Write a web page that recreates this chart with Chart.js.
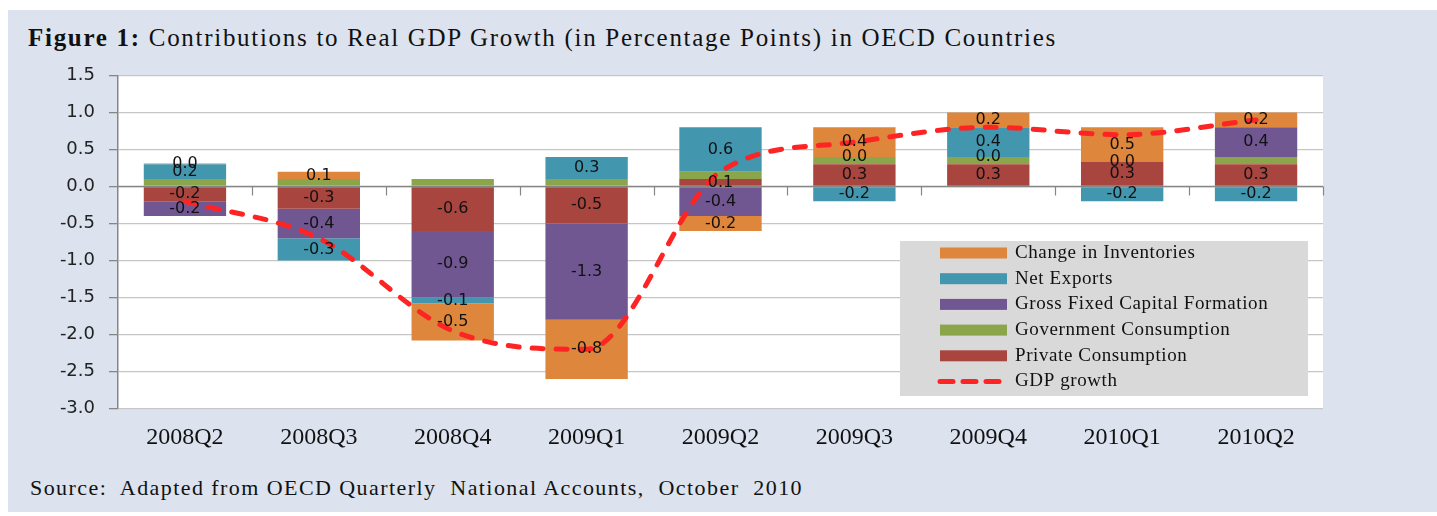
<!DOCTYPE html>
<html><head><meta charset="utf-8">
<script src="https://cdn.jsdelivr.net/npm/chart.js@4.4.1/dist/chart.umd.min.js"></script>
<style>
html,body{margin:0;padding:0;background:#fff;width:1437px;height:516px;overflow:hidden;}
#panel{position:absolute;left:8px;top:10px;width:1429px;height:502px;background:#dce3ef;}
#title{position:absolute;left:28px;top:23px;font-family:"Liberation Serif",serif;font-size:25px;line-height:29px;color:#111;white-space:nowrap;}
#source{position:absolute;left:30px;top:475px;font-family:"Liberation Serif",serif;font-size:22px;line-height:25px;color:#111;white-space:nowrap;}
canvas{position:absolute;left:0;top:0;}
</style></head>
<body>
<div id="panel"></div>
<div id="title"><b>Figure 1:</b> Contributions to Real GDP Growth (in Percentage Points) in OECD Countries</div>
<div id="source">Source:&nbsp; Adapted from OECD Quarterly&nbsp; National Accounts,&nbsp; October&nbsp; 2010</div>
<canvas id="c" width="1437" height="516"></canvas>
<script>
// ---- data ----
const categories = ['2008Q2','2008Q3','2008Q4','2009Q1','2009Q2','2009Q3','2009Q4','2010Q1','2010Q2'];
const privateConsumption        = [-0.2, -0.3, -0.6, -0.5, 0.1, 0.3, 0.3, 0.33, 0.3];
const governmentConsumption     = [0.1, 0.1, 0.1, 0.1, 0.1, 0.1, 0.1, 0.0, 0.1];
const grossFixedCapitalFormation= [-0.2, -0.4, -0.9, -1.3, -0.4, 0.0, 0.0, 0.0, 0.4];
const netExports                = [0.2, -0.3, -0.08, 0.3, 0.6, -0.2, 0.4, -0.2, -0.2];
const changeInInventories       = [0.01, 0.1, -0.5, -0.8, -0.2, 0.4, 0.2, 0.47, 0.2];
const gdpGrowth                 = [-0.2, -0.7, -1.95, -2.2, 0.2, 0.6, 0.8, 0.7, 0.9];
const seriesNames = ['Private Consumption','Government Consumption','Gross Fixed Capital Formation','Net Exports','Change in Inventories','GDP growth'];
const yMin = -3.0, yMax = 1.5, yStep = 0.5;

// fit HTML text widths
function fitWidth(id, target){
  const el = document.getElementById(id);
  const w = el.getBoundingClientRect().width;
  const n = el.textContent.length;
  el.style.letterSpacing = ((target - w) / n) + 'px';
}
fitWidth('title', 1029);
fitWidth('source', 773);

const colors = {
  priv:'#A8453F', gov:'#8BA54A', gfcf:'#705791', net:'#4297AF', inv:'#DE863B', gdp:'#FF2424'
};

const plotBg = {
  id:'plotBg',
  beforeDraw(chart){
    const {ctx, chartArea:a} = chart;
    ctx.save(); ctx.fillStyle='#ffffff';
    ctx.fillRect(a.left, a.top, a.right-a.left, a.bottom-a.top);
    ctx.restore();
  }
};

const zeroAxis = {
  id:'zeroAxis',
  beforeDatasetsDraw(chart){
    const {ctx, chartArea:a, scales:{x, y}} = chart;
    const y0 = y.getPixelForValue(0);
    ctx.save();
    ctx.strokeStyle='#868686'; ctx.lineWidth=1.5;
    ctx.beginPath(); ctx.moveTo(a.left, y0); ctx.lineTo(a.right, y0); ctx.stroke();
    const half = (x.getPixelForValue(1) - x.getPixelForValue(0)) / 2;
    ctx.lineWidth=1.2;
    for (let i=0;i<categories.length;i++){
      const xb = Math.round(x.getPixelForValue(i) + half) + 0.5;
      ctx.beginPath(); ctx.moveTo(xb, y0); ctx.lineTo(xb, y0+9); ctx.stroke();
    }
    ctx.restore();
  }
};

const segLabels = {
  id:'segLabels',
  afterDatasetsDraw(chart){
    const ctx = chart.ctx;
    ctx.save();
    ctx.font = '16px "DejaVu Sans"';
    ctx.fillStyle = '#111';
    ctx.textAlign='center'; ctx.textBaseline='middle';
    chart.data.datasets.forEach((ds, di) => {
      if (!ds.valueLabels) return;
      const meta = chart.getDatasetMeta(di);
      meta.data.forEach((el, i) => {
        const v = ds.data[i];
        if (v === null || v === undefined) return;
        const p = el.getProps(['x','y','base'], true);
        ctx.fillText(v.toFixed(1), p.x, (p.y + p.base)/2);
      });
    });
    ctx.restore();
  }
};

const boxLegend = {
  id:'boxLegend',
  afterDraw(chart){
    const ctx = chart.ctx;
    const bx=900, by=241, bw=408, bh=155;
    ctx.save();
    ctx.fillStyle='#d9d9d9';
    ctx.fillRect(bx, by, bw, bh);
    const ds = chart.data.datasets;
    const order = [4,3,2,1,0,5];
    ctx.font = '19px "Liberation Serif"';
    try { ctx.letterSpacing = '0.6px'; } catch(e){}
    ctx.textAlign='left'; ctx.textBaseline='middle';
    order.forEach((di, r) => {
      const cy = 253 + r*25.7;
      const d = ds[di];
      if (d.type === 'line'){
        ctx.save();
        ctx.strokeStyle=d.borderColor; ctx.lineWidth=5; ctx.lineCap='round';
        ctx.setLineDash([13,10]);
        ctx.beginPath(); ctx.moveTo(940, cy); ctx.lineTo(1003, cy); ctx.stroke();
        ctx.restore();
      } else {
        ctx.fillStyle=d.backgroundColor;
        ctx.fillRect(940, cy-5.5, 67, 11);
      }
      ctx.fillStyle='#111';
      ctx.fillText(d.label, 1015, cy);
    });
    ctx.restore();
  }
};

const barDs = (label, data, color, labels) => ({
  type:'bar', label, data, backgroundColor:color, borderWidth:0,
  barPercentage:0.615, categoryPercentage:1.0, valueLabels:labels, order:1
});

new Chart(document.getElementById('c'), {
  data:{
    labels: categories,
    datasets:[
      barDs(seriesNames[0], privateConsumption, colors.priv, true),
      barDs(seriesNames[1], governmentConsumption, colors.gov, false),
      barDs(seriesNames[2], grossFixedCapitalFormation, colors.gfcf, true),
      barDs(seriesNames[3], netExports, colors.net, true),
      barDs(seriesNames[4], changeInInventories, colors.inv, true),
      { type:'line', label:seriesNames[5], data:gdpGrowth, borderColor:colors.gdp, backgroundColor:colors.gdp,
        borderWidth:5, borderDash:[11,13], borderCapStyle:'round', borderJoinStyle:'round',
        pointRadius:0, cubicInterpolationMode:'monotone', fill:false, stack:'gdp', order:0 }
    ]
  },
  options:{
    responsive:false, animation:false, devicePixelRatio:1,
    layout:{padding:{left:0, right:114, top:75.5, bottom:0}},
    plugins:{legend:{display:false}, tooltip:{enabled:false}, title:{display:false}},
    scales:{
      x:{ stacked:true, grid:{display:false, drawTicks:false}, border:{display:false},
          ticks:{font:{family:'Liberation Serif', size:24}, color:'#111', padding:15, maxRotation:0, autoSkip:false},
          afterFit(s){ s.height = 107.5; } },
      y:{ stacked:true, min:yMin, max:yMax,
          ticks:{stepSize:yStep, font:{family:'DejaVu Sans', size:18}, color:'#222', padding:14,
                 callback:(v)=>Number(v).toFixed(1)},
          grid:{color:'#c6c6c6', lineWidth:1.3, tickColor:'#868686', tickLength:9, drawTicks:true},
          border:{color:'#868686', width:1.5},
          afterFit(s){ s.width = 118; } }
    }
  },
  plugins:[plotBg, zeroAxis, segLabels, boxLegend]
});
</script>
</body></html>
